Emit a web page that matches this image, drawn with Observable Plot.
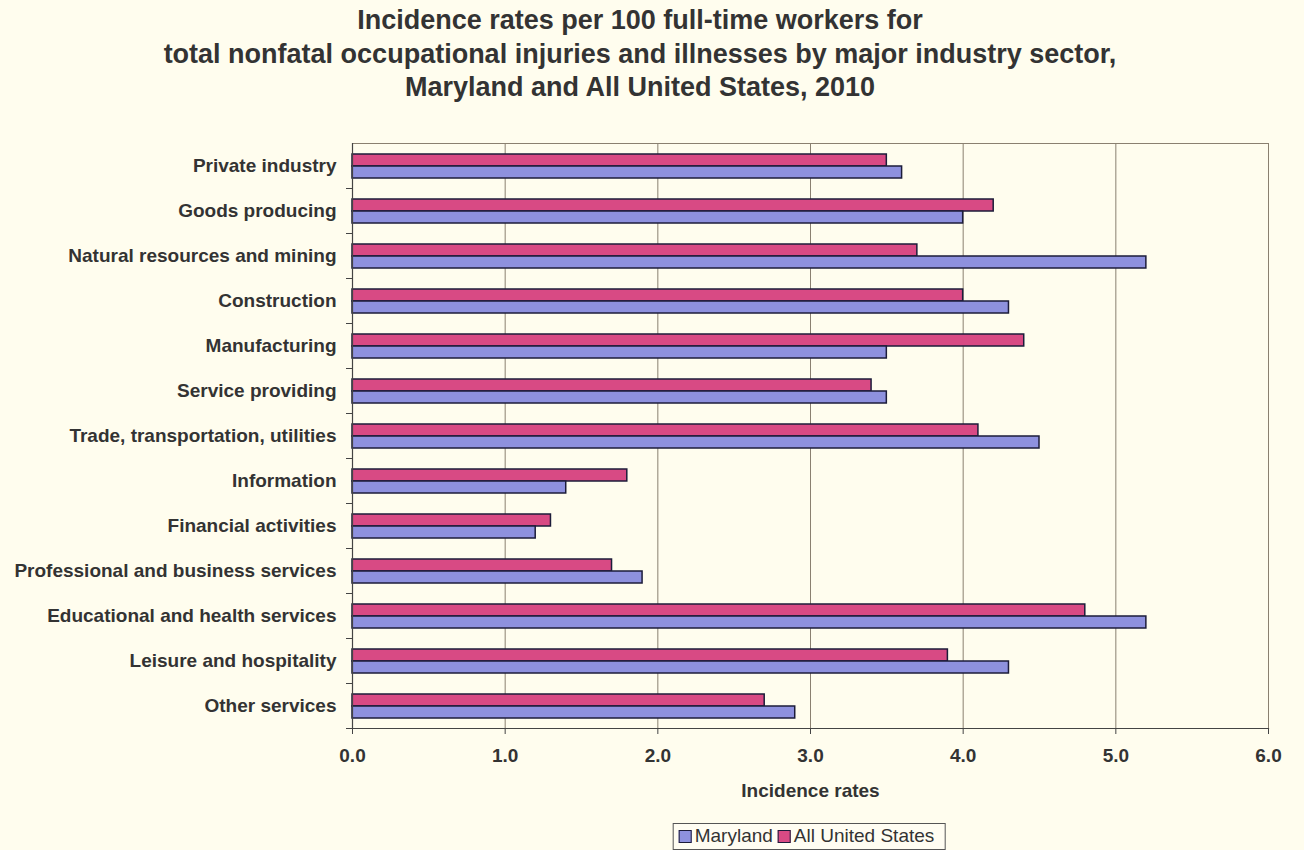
<!DOCTYPE html>
<html>
<head>
<meta charset="utf-8">
<script src="https://cdn.jsdelivr.net/npm/d3@7"></script>
<script src="https://cdn.jsdelivr.net/npm/@observablehq/plot@0.6"></script>
<style>
  html, body { margin: 0; padding: 0; background: #fffdee; }
  body { width: 1304px; height: 850px; font-family: "Liberation Sans", Arial, sans-serif; color: #333; }
  #title { text-align: center; font-weight: bold; font-size: 27px; line-height: 33.5px; padding-top: 4px; margin: 0; color: #333; width: 1280px; }
  #legend { position: relative; height: 30px; margin-top: 20px; }
  #legend .box { position: absolute; left: 809px; transform: translateX(-50%); display: flex; align-items: center; border: 1px solid #555; padding: 0 5px 0 5px; height: 25px; font-size: 19px; background: #fffdf2; white-space: nowrap; }
  #legend .sw { display: inline-block; width: 11px; height: 11px; border: 1.5px solid #1c1c3a; margin-right: 3px; }
  #legend .item { display: inline-flex; align-items: center; margin-right: 5px; }
</style>
</head>
<body>
<div id="title">Incidence rates per 100 full-time workers for<br>total nonfatal occupational injuries and illnesses by major industry sector,<br>Maryland and All United States, 2010</div>
<div id="chart"></div>
<div id="legend"></div>
<script>
const categories = [
  "Private industry",
  "Goods producing",
  "Natural resources and mining",
  "Construction",
  "Manufacturing",
  "Service providing",
  "Trade, transportation, utilities",
  "Information",
  "Financial activities",
  "Professional and business services",
  "Educational and health services",
  "Leisure and hospitality",
  "Other services"
];
const maryland = [3.6, 4.0, 5.2, 4.3, 3.5, 3.5, 4.5, 1.4, 1.2, 1.9, 5.2, 4.3, 2.9];
const allUS    = [3.5, 4.2, 3.7, 4.0, 4.4, 3.4, 4.1, 1.8, 1.3, 1.7, 4.8, 3.9, 2.7];
const seriesNames = ["Maryland", "All United States"];
const seriesColors = ["#8e91de", "#d84a84"];
const xTicks = [0, 1, 2, 3, 4, 5, 6];

const data = [];
categories.forEach((c, i) => {
  data.push({category: c, series: "All United States", value: allUS[i]});
  data.push({category: c, series: "Maryland", value: maryland[i]});
});

const chart = Plot.plot({
  width: 1304,
  height: 698,
  marginLeft: 352,
  marginRight: 36,
  marginTop: 38,
  marginBottom: 75,
  style: {fontFamily: "'Liberation Sans', Arial, sans-serif", fontSize: "19px", background: "transparent", color: "#333"},
  x: {domain: [0, 6], label: null},
  fy: {domain: categories, padding: 0, label: null, axis: null},
  y: {domain: ["All United States", "Maryland"], paddingInner: 0, paddingOuter: 0.8, axis: null},
  color: {domain: seriesNames, range: seriesColors},
  marks: [
    Plot.frame({facet: "super", stroke: "#8a8070", strokeWidth: 1}),
    Plot.ruleX(xTicks.slice(1, 6), {stroke: "#8a8070", strokeWidth: 1}),
    Plot.barX(data, {
      fy: "category", y: "series", x: "value", fill: "series",
      stroke: "#1c1c3a", strokeWidth: 1.5, insetTop: 0, insetBottom: 0
    }),
    Plot.ruleX([0], {stroke: "#444", strokeWidth: 1.2}),
    Plot.frame({facet: "super", anchor: "bottom", stroke: "#444", strokeWidth: 1.2}),
    Plot.axisFy({anchor: "left", tickSize: 0, tickPadding: 16, fontSize: 19, fontWeight: "bold", fill: "#333", label: null}),
    Plot.axisFy({anchor: "left", tickSize: 6, dy: 22.5, tickFormat: () => "", stroke: "#444", label: null}),
    Plot.axisX({
      anchor: "bottom", ticks: xTicks, tickFormat: d3.format(".1f"), tickSize: 6, tickPadding: 14,
      fontSize: 19, fontWeight: "bold", fill: "#333", stroke: "#444",
      label: "Incidence rates", labelArrow: "none", labelAnchor: "center", labelOffset: 68
    })
  ]
});
document.getElementById("chart").appendChild(chart);

// legend
const legend = document.getElementById("legend");
const box = document.createElement("div");
box.className = "box";
seriesNames.forEach((name, i) => {
  const item = document.createElement("span");
  item.className = "item";
  const sw = document.createElement("span");
  sw.className = "sw";
  sw.style.background = seriesColors[i];
  item.appendChild(sw);
  item.appendChild(document.createTextNode(name));
  box.appendChild(item);
});
legend.appendChild(box);
</script>
</body>
</html>
